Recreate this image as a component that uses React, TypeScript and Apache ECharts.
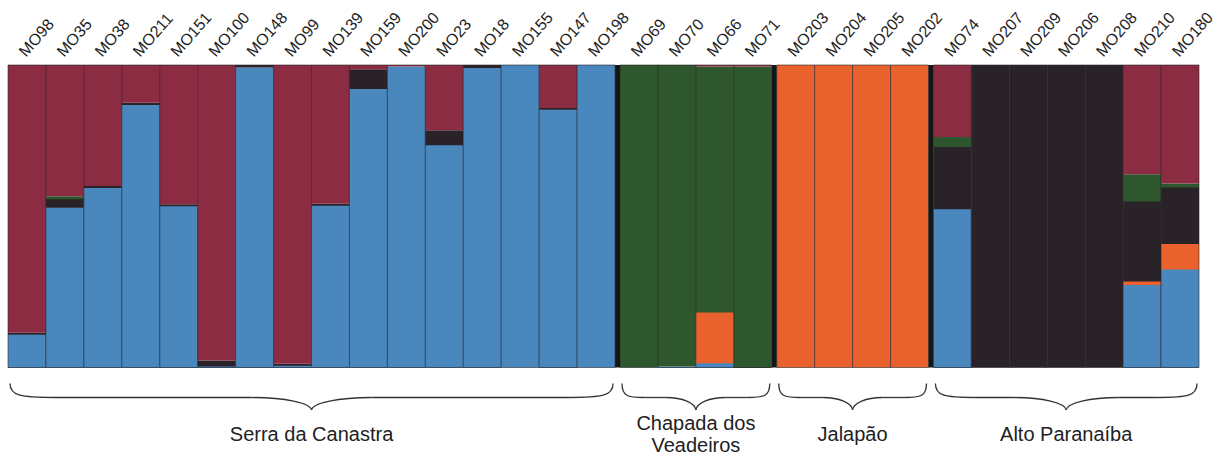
import React, { useEffect, useRef } from "react";
import * as echarts from "echarts";

const individuals = [
  "MO98", "MO35", "MO38", "MO211", "MO151", "MO100", "MO148", "MO99", "MO139", "MO159", "MO200", "MO23", "MO18", "MO155", "MO147", "MO198",
  "MO69", "MO70", "MO66", "MO71",
  "MO203", "MO204", "MO205", "MO202",
  "MO74", "MO207", "MO209", "MO206", "MO208", "MO210", "MO180",
];
const groupNames = ["Serra da Canastra", "Chapada dos\nVeadeiros", "Jalapão", "Alto Paranaíba"];
const groupSizes = [16, 4, 4, 7];

// cluster memberships, stacked bottom to top: blue, orange, dark, green, red
const blue = [0.11, 0.53, 0.595, 0.87, 0.535, 0.005, 0.992, 0.008, 0.537, 0.923, 0.995, 0.737, 0.99, 1.0, 0.854, 1.0,
  0, 0.003, 0.016, 0,
  0, 0, 0, 0,
  0.525, 0, 0, 0, 0, 0.275, 0.326];
const orange = [0, 0, 0, 0, 0, 0, 0, 0, 0, 0, 0, 0, 0, 0, 0, 0,
  0, 0, 0.168, 0,
  1, 1, 1, 1,
  0, 0, 0, 0, 0, 0.011, 0.084];
const dark = [0.005, 0.028, 0.005, 0.005, 0.005, 0.018, 0.008, 0.004, 0.004, 0.063, 0, 0.047, 0.01, 0, 0.004, 0,
  0, 0, 0, 0,
  0, 0, 0, 0,
  0.206, 1, 1, 1, 1, 0.265, 0.187];
const green = [0, 0.008, 0, 0, 0, 0, 0, 0, 0, 0, 0, 0, 0, 0, 0, 0,
  1, 0.997, 0.811, 0.995,
  0, 0, 0, 0,
  0.031, 0, 0, 0, 0, 0.088, 0.011];
const red = [0.885, 0.434, 0.4, 0.125, 0.46, 0.977, 0, 0.988, 0.459, 0.014, 0.005, 0.216, 0, 0, 0.142, 0,
  0, 0, 0.005, 0.005,
  0, 0, 0, 0,
  0.238, 0, 0, 0, 0, 0.361, 0.392];

const clusterColors = ["#4A87BD", "#E9612D", "#2A2229", "#2F572E", "#8B2C43"];
const GAP = 0.13;
const LABEL_ANGLE = 0.85;

export default function App() {
  const ref = useRef<HTMLDivElement>(null);
  useEffect(() => {
    document.body.style.margin = "0";
    const chart = echarts.init(ref.current!, null, { renderer: "svg" });

    const groupIndex: number[] = [];
    groupSizes.forEach((n, g) => {
      for (let k = 0; k < n; k++) groupIndex.push(g);
    });
    const total = individuals.length + (groupSizes.length - 1) * GAP;
    const barData = individuals.map((_, i) => [
      i + groupIndex[i] * GAP, blue[i], orange[i], dark[i], green[i], red[i], i,
    ]);
    let acc = 0;
    const groupData = groupSizes.map((n, g) => {
      const s = acc + g * GAP;
      acc += n;
      return [s, s + n, g];
    });

    const font = '"Liberation Sans", Arial, Helvetica, sans-serif';

    chart.setOption({
      animation: false,
      grid: { left: 8, right: 32, top: 65, bottom: 88.5 },
      xAxis: { type: "value", min: 0, max: total, show: false },
      yAxis: { type: "value", min: 0, max: 1, show: false },
      series: [
        {
          type: "custom",
          data: barData,
          clip: false,
          renderItem: (params: any, api: any) => {
            const x0 = api.value(0);
            const idx = api.value(6);
            const lb = api.coord([x0, 0]);
            const rt = api.coord([x0 + 1, 1]);
            const xL = lb[0], xR = rt[0], yB = lb[1], yT = rt[1];
            const h = yB - yT;
            const children: any[] = [];
            let cum = 0;
            for (let k = 0; k < 5; k++) {
              const v = api.value(1 + k);
              if (v <= 0) continue;
              const top = yB - (cum + v) * h;
              const isTop = cum + v >= 0.999;
              children.push({
                type: "rect",
                shape: { x: xL, y: top, width: xR - xL, height: v * h + (isTop ? 0 : 0.6) },
                style: { fill: clusterColors[k] },
              });
              cum += v;
            }
            children.push({
              type: "rect",
              shape: { x: xL, y: yT, width: xR - xL, height: h },
              style: { fill: "none", stroke: "rgba(45,40,45,0.6)", lineWidth: 1 },
            });
            children.push({
              type: "text",
              x: (xL + xR) / 2 - 5,
              y: yT - 11,
              rotation: LABEL_ANGLE,
              style: {
                text: individuals[idx],
                fill: "#1e1e1e",
                font: `16px ${font}`,
                align: "left",
                verticalAlign: "middle",
              },
            });
            return { type: "group", children };
          },
        },
        {
          type: "custom",
          data: groupData,
          clip: false,
          renderItem: (params: any, api: any) => {
            const s = api.value(0);
            const e = api.value(1);
            const g = api.value(2);
            const p0 = api.coord([s, 0]);
            const p1 = api.coord([e, 1]);
            const x0 = p0[0] + 2, x1 = p1[0] - 2, yB = p0[1], yTop = p1[1];
            const mid = (p0[0] + p1[0]) / 2;
            const w = x1 - x0;
            const yT = yB + 16;
            const yH = yB + 30;
            const yC = yB + 42.5;
            const a = Math.min(45, w * 0.15);
            const b = Math.min(60, w * 0.2);
            const stroke = { stroke: "#333333", lineWidth: 1.3, fill: "none" };
            const children: any[] = [];
            if (g < groupSizes.length - 1) {
              children.push({
                type: "rect",
                shape: { x: p1[0], y: yTop, width: api.coord([e + GAP, 0])[0] - p1[0], height: yB - yTop },
                style: { fill: "#161616" },
              });
            }
            children.push(
              { type: "bezierCurve", shape: { x1: x0, y1: yT, cpx1: x0, cpy1: yT + (yH - yT) * 0.9, cpx2: x0 + a * 0.25, cpy2: yH, x2: x0 + a, y2: yH }, style: stroke },
              { type: "line", shape: { x1: x0 + a, y1: yH, x2: mid - b, y2: yH }, style: stroke },
              { type: "bezierCurve", shape: { x1: mid - b, y1: yH, cpx1: mid - b * 0.45, cpy1: yH, cpx2: mid - 1, cpy2: yC - 7, x2: mid, y2: yC }, style: stroke },
              { type: "bezierCurve", shape: { x1: mid, y1: yC, cpx1: mid + 1, cpy1: yC - 7, cpx2: mid + b * 0.45, cpy2: yH, x2: mid + b, y2: yH }, style: stroke },
              { type: "line", shape: { x1: mid + b, y1: yH, x2: x1 - a, y2: yH }, style: stroke },
              { type: "bezierCurve", shape: { x1: x1 - a, y1: yH, cpx1: x1 - a * 0.25, cpy1: yH, cpx2: x1, cpy2: yT + (yH - yT) * 0.9, x2: x1, y2: yT }, style: stroke },
            );
            children.push({
              type: "text",
              x: mid,
              y: yB + 66,
              style: {
                text: groupNames[g],
                fill: "#222222",
                font: `20px ${font}`,
                align: "center",
                verticalAlign: "middle",
                lineHeight: 22,
              },
            });
            return { type: "group", children };
          },
        },
      ],
    });
    return () => chart.dispose();
  }, []);
  return <div ref={ref} style={{ width: 1231, height: 456 }} />;
}
